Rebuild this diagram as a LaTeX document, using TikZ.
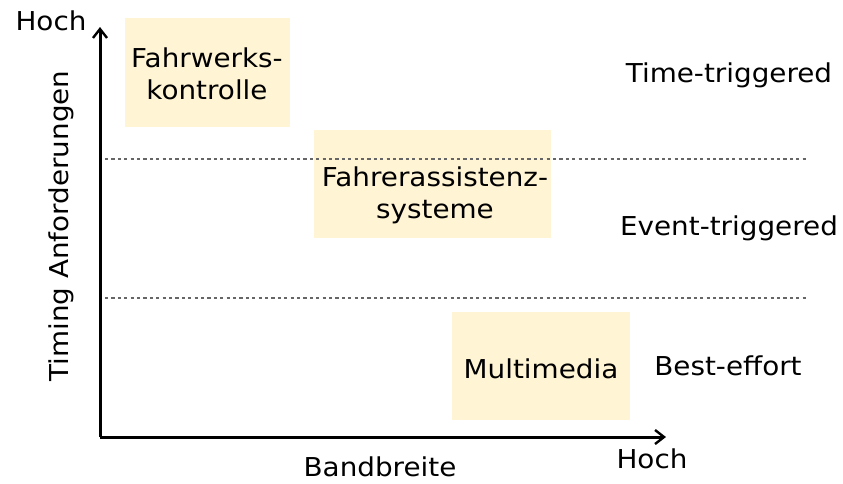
\documentclass[tikz,border=0pt]{standalone}
\usepackage{fontspec}
\setmainfont{DejaVu Sans}[FakeStretch=1.07]
\usetikzlibrary{arrows.meta}
\definecolor{boxfill}{HTML}{FFF4D4}
\tikzset{
  area/.style={fill=boxfill, draw=none},
  lbl/.style={font=\fontsize{26}{32}\selectfont, inner sep=0pt, align=center},
  axis/.style={line width=3pt, -{Straight Barb[length=9pt,width=14pt,line width=2.4pt]}},
  sep/.style={dash pattern=on 3.2pt off 3.2pt, line width=1.3pt, black!60},
}
\begin{document}
\begin{tikzpicture}[x=1pt,y=-1pt]
\useasboundingbox (0,0) rectangle (843,483);
% application areas
\fill[area] (125,18) rectangle (290,127);
\fill[area] (314,130) rectangle (551,238);
\fill[area] (452,312) rectangle (630,420);
% class boundaries
\coordinate (s1a) at (105,159); \coordinate (s1b) at (807,159);
\coordinate (s2a) at (105,298); \coordinate (s2b) at (807,298);
\draw[sep] (s1a) -- (s1b);
\draw[sep] (s2a) -- (s2b);
% axes
\coordinate (o) at (100,437);
\coordinate (ytip) at (100,27);
\coordinate (xtip) at (666,437);
\draw[axis] (o) -- (ytip);
\draw[axis] (o) -- (xtip);
% texts
\node[lbl] (fk) at (207,74) {Fahrwerks-\\kontrolle};
\node[lbl] (fa) at (435,195) {Fahrerassistenz-\\systeme};
\node[lbl] (mm) at (541,369) {Multimedia};
\node[lbl] (tt) at (729,75) {Time-triggered};
\node[lbl] (et) at (729,228) {Event-triggered};
\node[lbl] (be) at (728,366) {Best-effort};
\node[lbl] (yh) at (51,21) {Hoch};
\node[lbl] (xh) at (652,459) {Hoch};
\node[lbl] (bb) at (380,467) {Bandbreite};
\node[lbl, rotate=90] (ta) at (61,226) {Timing Anforderungen};
\end{tikzpicture}
\end{document}
